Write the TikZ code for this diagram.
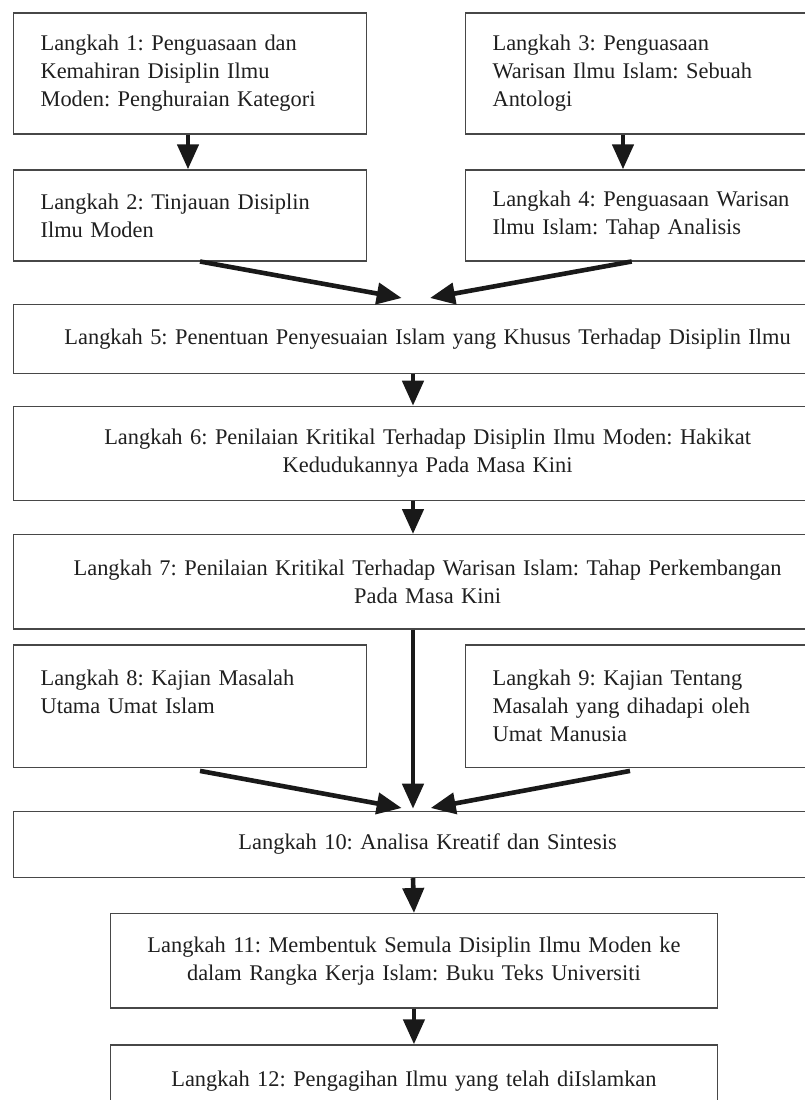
\documentclass[tikz,border=0pt]{standalone}
\usepackage{fontspec}
\setmainfont{Liberation Serif}
\usetikzlibrary{arrows.meta}
\tikzset{
  box/.style={draw=black!72, line width=1.2pt, rectangle, inner xsep=27pt, inner ysep=0pt,
    anchor=north west, text=black!88, font=\fontsize{22.4pt}{28pt}\selectfont\frenchspacing},
  sidebox/.style={box, minimum width=353pt, text width=299pt, align=left},
  widebox/.style={box, minimum width=828pt, text width=774pt, align=center},
  midbox/.style={box, minimum width=606.7pt, text width=580pt, inner xsep=13pt, align=center},
  flow/.style={line width=4.6pt, black!90, -{Triangle[length=25pt,width=21pt]}}
}
\begin{document}
\begin{tikzpicture}[x=1pt,y=-1pt]
\useasboundingbox (0,0) rectangle (804,1100);
\node[sidebox, minimum height=121pt] (b1) at (13,12.3)
  {Langkah 1: Penguasaan dan\\Kemahiran Disiplin Ilmu\\Moden: Penghuraian Kategori};
\node[sidebox, minimum height=121pt] (b3) at (465,12.3)
  {Langkah 3: Penguasaan\\Warisan Ilmu Islam: Sebuah\\Antologi};
\node[sidebox, minimum height=91pt] (b2) at (13,169.3)
  {Langkah 2: Tinjauan Disiplin\\Ilmu Moden};
\node[sidebox, minimum height=91pt] (b4) at (465,169.3)
  {\mbox{Langkah 4: Penguasaan Warisan}\\Ilmu Islam: Tahap Analisis};
\node[widebox, minimum height=69.2pt] (b5) at (13,303.5)
  {\mbox{Langkah 5: Penentuan Penyesuaian Islam yang Khusus Terhadap Disiplin Ilmu}};
\node[widebox, minimum height=94.3pt] (b6) at (13,405.7)
  {Langkah 6: Penilaian Kritikal Terhadap Disiplin Ilmu Moden: Hakikat\\Kedudukannya Pada Masa Kini};
\node[widebox, minimum height=94.3pt] (b7) at (13,534)
  {\mbox{Langkah 7: Penilaian Kritikal Terhadap Warisan Islam: Tahap Perkembangan}\\Pada Masa Kini};
\node[sidebox, minimum height=122.4pt] (b8) at (13,644.3)
  {Langkah 8: Kajian Masalah\\Utama Umat Islam\\\mbox{}};
\node[sidebox, minimum height=122.4pt] (b9) at (465,644.3)
  {Langkah 9: Kajian Tentang\\Masalah yang dihadapi oleh\\Umat Manusia};
\node[widebox, minimum height=66.3pt] (b10) at (13,810.7)
  {Langkah 10: Analisa Kreatif dan Sintesis};
\node[midbox, minimum height=94.3pt] (b11) at (110,913)
  {Langkah 11: Membentuk Semula Disiplin Ilmu Moden ke\\dalam Rangka Kerja Islam: Buku Teks Universiti};
\node[midbox, minimum height=72pt] (b12) at (110,1044.3)
  {Langkah 12: Pengagihan Ilmu yang telah diIslamkan};

\coordinate (t5l) at ([xshift=388.7pt,yshift=5.5pt]b5.north west);
\coordinate (t5r) at ([xshift=417pt,yshift=5.5pt]b5.north west);
\coordinate (t10l) at ([xshift=388.7pt,yshift=2.7pt]b10.north west);
\coordinate (t10m) at ([xshift=400pt,yshift=2pt]b10.north west);
\coordinate (t10r) at ([xshift=417.7pt,yshift=2.7pt]b10.north west);

\draw[flow] ([xshift=175pt]b1.south west) -- ([xshift=175pt]b2.north west);
\draw[flow] ([xshift=158pt]b3.south west) -- ([xshift=158pt]b4.north west);
\draw[flow] ([xshift=187pt]b2.south west) -- (t5l);
\draw[flow] ([xshift=166.7pt]b4.south west) -- (t5r);
\draw[flow] ([xshift=400pt]b5.south west) -- ([xshift=400pt]b6.north west);
\draw[flow] ([xshift=400pt]b6.south west) -- ([xshift=400pt]b7.north west);
\draw[flow] ([xshift=400pt]b7.south west) -- (t10m);
\draw[flow] ([xshift=187pt,yshift=-3pt]b8.south west) -- (t10l);
\draw[flow] ([xshift=165pt,yshift=-3pt]b9.south west) -- (t10r);
\draw[flow] ([xshift=400pt]b10.south west) -- (b11.north);
\draw[flow] (b11.south) -- (b12.north);
\end{tikzpicture}
\end{document}
